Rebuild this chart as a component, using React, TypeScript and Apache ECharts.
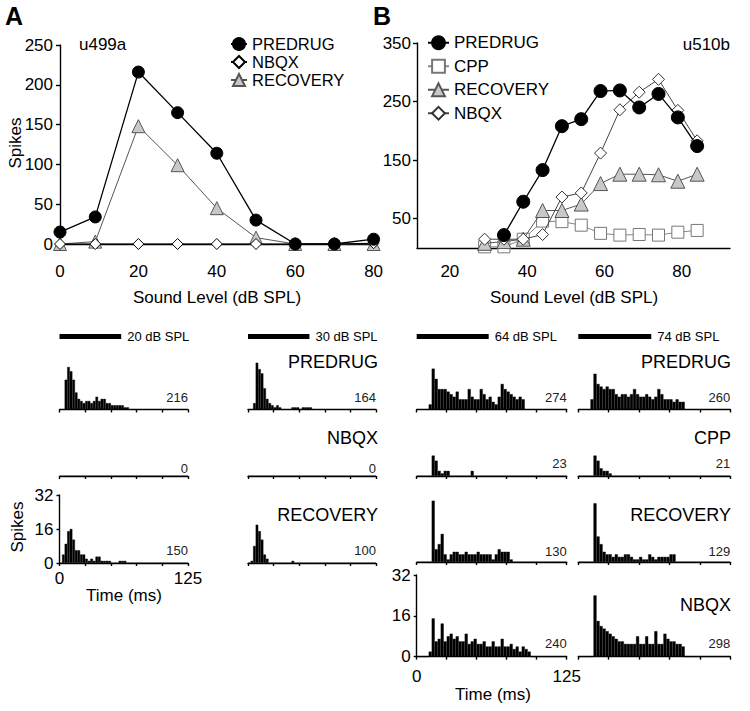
import React, { useEffect, useRef } from 'react';
import * as echarts from 'echarts';

const FONT = '"Liberation Sans", Arial, Helvetica, sans-serif';

// ---------- Panel A: rate-level functions (unit u499a) ----------
const levelsA = [0, 9, 20, 30, 40, 50, 60, 70, 80];
const predrugA = [15, 34, 216, 165, 114, 30, 0, 0, 6];
const nbqxA = [0, 0, 0, 0, 0, 0, 0, 0, 1];
const recoveryA = [0, 3, 148, 99, 45, 8, 0, 0, 0];

// ---------- Panel B: rate-level functions (unit u510b) ----------
const levelsB = [29, 34, 39, 44, 49, 54, 59, 64, 69, 74, 79, 84];
const predrugB = [null, 22, 79, 133, 208, 220, 268, 269, 240, 263, 223, 174];
const cppB = [2, 2, 15, 46, 45, 39, 25, 22, 23, 22, 27, 30];
const recoveryB = [8, 11, 15, 64, 64, 75, 110, 126, 126, 125, 114, 126];
const nbqxB = [15, 15, 15, 23, 87, 94, 162, 236, 266, 288, 235, 183];

const yTicksB = [50, 150, 250, 350];
const xTicksB = [20, 40, 60, 80];

// ---------- PSTHs (2.5 ms bins, 0-125 ms) ----------
const BIN_MS = 2.5;
const binStarts = Array.from({ length: 50 }, (_, i) => String(i * BIN_MS));

const A_PRE_20 = [0,0,14,20,18,14,8,5,4,3, 4,4,3,4,6,4,5,5,3,3, 2,2,2,2,2,1,1,0,0,0, 0,0,0,0,0,0,0,0,0,0, 0,0,0,0,0,0,0,0,0,0];
const A_PRE_30 = [0,0,3,22,19,17,10,5,3,2, 1,2,1,0,0,0,0,1,1,1, 0,1,1,1,1,0,0,0,0,0, 0,0,0,0,0,0,0,0,0,0, 0,0,0,0,0,0,0,0,0,0];
const A_NBQX_20 = [0,0,0,0,0,0,0,0,0,0, 0,0,0,0,0,0,0,0,0,0, 0,0,0,0,0,0,0,0,0,0, 0,0,0,0,0,0,0,0,0,0, 0,0,0,0,0,0,0,0,0,0];
const A_NBQX_30 = [0,0,0,0,0,0,0,0,0,0, 0,0,0,0,0,0,0,0,0,0, 0,0,0,0,0,0,0,0,0,0, 0,0,0,0,0,0,0,0,0,0, 0,0,0,0,0,0,0,0,0,0];
const A_REC_20 = [0,4,9,15,16,11,6,6,4,4, 2,1,2,1,3,3,1,1,1,1, 0,0,0,1,1,1,0,0,0,0, 0,0,0,0,0,0,0,0,0,0, 0,0,0,0,0,0,0,0,0,0];
const A_REC_30 = [0,1,8,18,15,11,4,2,0,0, 0,0,0,0,0,0,0,1,0,0, 0,0,0,0,0,0,0,0,0,0, 0,0,0,0,0,0,0,0,0,0, 0,0,0,0,0,0,0,0,0,0];

const B_PRE_64 = [0,0,0,0,2,16,12,8,8,8, 7,6,5,7,4,4,4,8,5,4, 4,8,6,4,5,3,2,5,10,8, 7,6,5,4,5,4,0,0,0,0, 0,0,0,0,0,0,0,0,0,0];
const B_PRE_74 = [0,0,0,0,4,14,10,9,8,9, 8,8,6,5,6,6,5,6,8,6, 5,5,6,5,4,5,8,6,4,4, 4,3,4,3,3,0,0,0,0,0, 0,0,0,0,0,0,0,0,0,0];
const B_CPP_64 = [0,0,0,0,0,8,6,2,1,2, 2,0,0,0,0,0,0,0,2,0, 0,0,0,0,0,0,0,0,0,0, 0,0,0,0,0,0,0,0,0,0, 0,0,0,0,0,0,0,0,0,0];
const B_CPP_74 = [0,0,0,0,0,8,6,3,2,2, 1,0,0,0,0,0,0,0,0,0, 0,0,0,0,0,0,0,0,0,0, 0,0,0,0,0,0,0,0,0,0, 0,0,0,0,0,0,0,0,0,0];
const B_REC_64 = [0,0,0,0,0,24,5,7,11,3, 1,3,4,4,3,3,4,3,3,3, 4,3,3,3,3,1,3,5,4,4, 4,1,0,0,0,0,0,0,0,0, 0,0,0,0,0,0,0,0,0,0];
const B_REC_74 = [0,0,0,0,0,23,10,7,4,3, 3,2,3,2,2,3,3,2,1,1, 2,1,1,3,2,1,2,2,2,2, 3,3,0,0,0,0,0,0,0,0, 0,0,0,0,0,0,0,0,0,0];
const B_NBQX_64 = [0,0,0,0,2,15,6,7,13,6, 8,9,7,8,6,6,9,5,6,7, 5,5,6,4,4,6,4,4,7,4, 4,5,3,4,2,4,3,2,0,0, 0,0,0,0,0,0,0,0,0,0];
const B_NBQX_74 = [0,0,0,0,0,24,14,12,11,10, 9,8,7,6,6,5,5,5,5,8, 5,5,8,5,5,10,5,5,9,7, 6,6,5,5,4,0,0,0,0,0, 0,0,0,0,0,0,0,0,0,0];

const psthA = [[A_PRE_20, A_PRE_30], [A_NBQX_20, A_NBQX_30], [A_REC_20, A_REC_30]];
const psthB = [[B_PRE_64, B_PRE_74], [B_CPP_64, B_CPP_74], [B_REC_64, B_REC_74], [B_NBQX_64, B_NBQX_74]];
const countsA = [[216, 164], [0, 0], [150, 100]];
const countsB = [[274, 260], [23, 21], [130, 129], [240, 298]];
const condA = ['PREDRUG', 'NBQX', 'RECOVERY'];
const condB = ['PREDRUG', 'CPP', 'RECOVERY', 'NBQX'];
const levelLabelsA = ['20 dB SPL', '30 dB SPL'];
const levelLabelsB = ['64 dB SPL', '74 dB SPL'];
const STIM_MS = 60;

// ---------- layout ----------
const COLS_A = [{ left: 59.5, width: 128.5 }, { left: 248, width: 128 }];
const COLS_B = [{ left: 416.7, width: 150 }, { left: 578.3, width: 152 }];
const ROWS_A = [409.5, 476, 563];
const ROWS_B = [409.5, 476, 562, 656.7];
const H_A = 68;
const H_B = 81.7;
const COND_Y = [362, 438, 515, 605];
const COUNT_Y_A = [397, 468, 550];
const COUNT_Y_B = [397, 463, 551, 643];

function buildOption() {
  const line = { color: '#000', width: 1.4 };
  const lbl = { color: '#000', fontSize: 17, fontFamily: FONT };
  const grids: any[] = [];
  const xAxes: any[] = [];
  const yAxes: any[] = [];
  const series: any[] = [];
  const graphics: any[] = [];

  const text = (t: string, x: number, y: number, size: number, align: string, extra: any = {}) => {
    graphics.push({
      type: 'text', x, y, silent: true, ...extra,
      style: {
        text: t, fontSize: size, fontFamily: FONT, fill: extra.fill || '#000',
        fontWeight: extra.fontWeight || 'normal',
        align, verticalAlign: 'middle', textAlign: align, textVerticalAlign: 'middle',
      },
    });
  };

  // grid 0 : panel A tuning
  grids.push({ left: 60, top: 45, width: 313.6, height: 199 });
  xAxes.push({
    type: 'value', gridIndex: 0, min: 0, max: 80, interval: 20, offset: 12,
    axisLine: { show: true, lineStyle: line }, axisTick: { show: true, length: 4, lineStyle: line },
    axisLabel: { ...lbl, margin: 7 }, splitLine: { show: false },
  });
  yAxes.push({
    type: 'value', gridIndex: 0, min: 0, max: 250, interval: 50,
    axisLine: { show: true, lineStyle: line }, axisTick: { show: true, length: 4, lineStyle: line },
    axisLabel: { ...lbl, margin: 7 }, splitLine: { show: false },
  });
  // grid 1 : panel B tuning
  grids.push({ left: 417, top: 43, width: 313, height: 205 });
  xAxes.push({
    type: 'value', gridIndex: 1, min: 11.5, max: 92.5, offset: 8,
    axisLine: { show: true, lineStyle: line }, axisTick: { show: false },
    axisLabel: { ...lbl, margin: 7, customValues: xTicksB }, splitLine: { show: false },
  });
  yAxes.push({
    type: 'value', gridIndex: 1, min: 0, max: 350,
    axisLine: { show: true, lineStyle: line },
    axisTick: { show: true, length: 4, lineStyle: line, customValues: yTicksB },
    axisLabel: { ...lbl, margin: 6, customValues: yTicksB }, splitLine: { show: false },
  });

  const pair = (xs: number[], ys: (number | null)[]) => xs.map((x, i) => [x, ys[i]]);
  const lineSeries = (name: string, gi: number, data: any[], symbol: string, size: number,
    fill: string, stroke: string, lineColor: string, lw: number, z: number) => ({
    name, type: 'line', xAxisIndex: gi, yAxisIndex: gi, data, symbol, symbolSize: size,
    connectNulls: false, z,
    lineStyle: { color: lineColor, width: lw },
    itemStyle: { color: fill, borderColor: stroke, borderWidth: 1 },
    emphasis: { disabled: true },
  });

  series.push(lineSeries('A:RECOVERY', 0, pair(levelsA, recoveryA), 'triangle', 13, '#c8c8c8', '#555', '#555', 1, 2));
  series.push(lineSeries('A:NBQX', 0, pair(levelsA, nbqxA), 'diamond', 11, '#fff', '#000', '#000', 1, 3));
  series.push(lineSeries('A:PREDRUG', 0, pair(levelsA, predrugA), 'circle', 12, '#000', '#000', '#000', 1.3, 4));

  series.push(lineSeries('B:CPP', 1, pair(levelsB, cppB), 'rect', 12, '#fff', '#777', '#888', 1, 2));
  series.push(lineSeries('B:RECOVERY', 1, pair(levelsB, recoveryB), 'triangle', 14, '#c8c8c8', '#555', '#555', 1, 3));
  series.push(lineSeries('B:NBQX', 1, pair(levelsB, nbqxB), 'diamond', 12, '#fff', '#333', '#444', 1, 4));
  series.push(lineSeries('B:PREDRUG', 1, pair(levelsB, predrugB), 'circle', 13, '#000', '#000', '#000', 1.3, 5));

  const addPsth = (col: any, base: number, h: number, data: number[], showX: boolean, showY: boolean, xMargin: number) => {
    const gi = grids.length;
    grids.push({ left: col.left, top: base - h, width: col.width, height: h });
    const catIdx = xAxes.length;
    xAxes.push({ type: 'category', gridIndex: gi, data: binStarts, show: false, position: 'top', boundaryGap: true });
    xAxes.push({
      type: 'value', gridIndex: gi, min: 0, max: 125, interval: 25, position: 'bottom',
      axisLine: { show: true, lineStyle: line }, axisTick: { show: true, length: 3, lineStyle: line },
      axisLabel: showX ? { ...lbl, margin: xMargin, customValues: [0, 125] } : { show: false },
      splitLine: { show: false },
    });
    const yi = yAxes.length;
    yAxes.push({
      type: 'value', gridIndex: gi, min: 0, max: 32, interval: 16, show: showY,
      axisLine: { show: true, lineStyle: line }, axisTick: { show: true, length: 3, lineStyle: line },
      axisLabel: { ...lbl, margin: 6 }, splitLine: { show: false },
    });
    series.push({
      type: 'bar', xAxisIndex: catIdx, yAxisIndex: yi, data, barCategoryGap: '0%', barGap: '0%',
      itemStyle: { color: '#000', borderColor: '#000', borderWidth: 0.4 }, silent: true,
    });
  };

  psthA.forEach((row, r) => row.forEach((d, c) => {
    addPsth(COLS_A[c], ROWS_A[r], H_A, d, r === 2 && c === 0, r === 2 && c === 0, 7);
    text(String(countsA[r][c]), COLS_A[c].left + COLS_A[c].width, COUNT_Y_A[r], 13, 'right', { fill: '#222' });
  }));
  psthB.forEach((row, r) => row.forEach((d, c) => {
    addPsth(COLS_B[c], ROWS_B[r], H_B, d, r === 3 && c === 0, r === 3 && c === 0, 11);
    text(String(countsB[r][c]), COLS_B[c].left + COLS_B[c].width, COUNT_Y_B[r], 13, 'right', { fill: '#222' });
  }));

  condA.forEach((t, r) => text(t, 378, COND_Y[r], 18, 'right'));
  condB.forEach((t, r) => text(t, 731, COND_Y[r], 18, 'right'));

  // stimulus bars + level labels
  const stim = (col: any, label: string) => {
    const w = (STIM_MS * col.width) / 125;
    graphics.push({ type: 'rect', silent: true, shape: { x: col.left, y: 334, width: w, height: 5 }, style: { fill: '#000' } });
    text(label, col.left + w + 6, 336.5, 13, 'left');
  };
  COLS_A.forEach((c, i) => stim(c, levelLabelsA[i]));
  COLS_B.forEach((c, i) => stim(c, levelLabelsB[i]));

  // panel texts
  text('A', 5, 16, 25, 'left', { fontWeight: 'bold' });
  text('B', 373, 16, 25, 'left', { fontWeight: 'bold' });
  text('u499a', 79, 44, 17, 'left');
  text('u510b', 730, 44, 17, 'right');
  text('Spikes', 15, 143, 17, 'center', { rotation: Math.PI / 2 });
  text('Sound Level (dB SPL)', 217, 297, 17, 'center');
  text('Sound Level (dB SPL)', 574, 297, 17, 'center');
  text('Spikes', 17, 527, 17, 'center', { rotation: Math.PI / 2 });
  text('Time (ms)', 124, 595, 17, 'center');
  text('Time (ms)', 493, 694, 17, 'center');

  return {
    animation: false,
    backgroundColor: '#fff',
    textStyle: { fontFamily: FONT },
    grid: grids,
    xAxis: xAxes,
    yAxis: yAxes,
    series,
    graphic: graphics,
    legend: [
      {
        data: ['A:PREDRUG', 'A:NBQX', 'A:RECOVERY'], orient: 'vertical', left: 230, top: 35, padding: 0,
        itemWidth: 16, itemHeight: 15, itemGap: 0, selectedMode: false,
        textStyle: { color: '#000', fontSize: 16.5, lineHeight: 18, fontFamily: FONT },
        formatter: (n: string) => n.slice(2),
      },
      {
        data: ['B:PREDRUG', 'B:CPP', 'B:RECOVERY', 'B:NBQX'], orient: 'vertical', left: 427, top: 34, padding: 0,
        itemWidth: 21, itemHeight: 16, itemGap: 6, selectedMode: false,
        textStyle: { color: '#000', fontSize: 17, lineHeight: 17.5, fontFamily: FONT },
        formatter: (n: string) => n.slice(2),
      },
    ],
  };
}

export default function App() {
  const ref = useRef<HTMLDivElement>(null);
  useEffect(() => {
    if (!ref.current) return;
    const chart = echarts.init(ref.current, null, { renderer: 'svg' });
    chart.setOption(buildOption() as any);
    return () => chart.dispose();
  }, []);
  return (
    <div
      ref={ref}
      style={{ position: 'fixed', left: 0, top: 0, width: 750, height: 711, background: '#fff' }}
    />
  );
}
